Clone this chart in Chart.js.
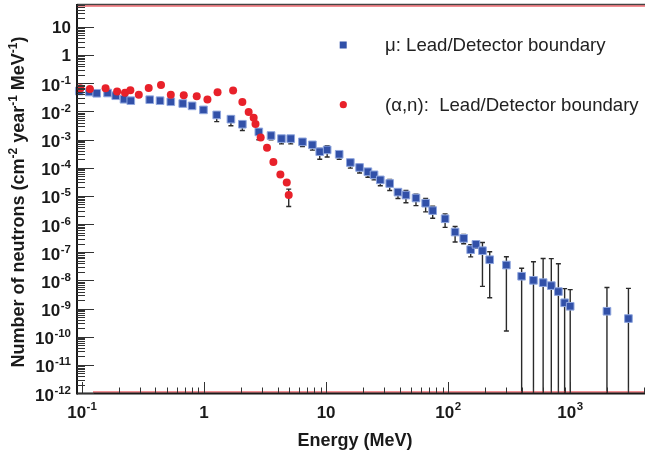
<!DOCTYPE html>
<html>
<head>
<meta charset="utf-8">
<script src="https://cdn.jsdelivr.net/npm/chart.js@4.4.1/dist/chart.umd.min.js"></script>
<style>
  html, body { margin: 0; padding: 0; background: #fff; }
  #wrap { width: 645px; height: 455px; }
</style>
</head>
<body>
<div id="wrap"><canvas id="chart" width="645" height="455"></canvas></div>
<script>
// mu-induced neutrons at the lead/detector boundary
const muEnergy = [0.095, 0.115, 0.132, 0.162, 0.189, 0.221, 0.251, 0.359, 0.436, 0.534, 0.669, 0.798, 0.989,
  1.27, 1.66, 2.06, 2.81, 3.54, 4.31, 5.13, 6.40, 7.72, 8.87, 10.2, 12.8, 15.8, 18.8, 22.0, 24.7, 27.8,
  33.2, 38.8, 45.1, 54.5, 65.4, 74.7, 94.4, 114, 134, 153, 169, 191, 219, 300, 400, 500, 600, 700, 800,
  900, 1000, 2000, 3000];
const muFlux = [0.053, 0.049, 0.044, 0.045, 0.036, 0.027, 0.024, 0.026, 0.024, 0.022, 0.019, 0.0157, 0.0113,
  0.0075, 0.0053, 0.0035, 0.00187, 0.00139, 0.00108, 0.00108, 0.00083, 0.00065, 0.00037, 0.00043, 0.0003,
  1.53e-4, 1.02e-4, 7.2e-5, 5.6e-5, 3.7e-5, 2.75e-5, 1.36e-5, 1.07e-5, 8.4e-6, 5.5e-6, 3.0e-6, 1.54e-6,
  5.2e-7, 3.1e-7, 1.23e-7, 1.9e-7, 1.13e-7, 5.4e-8, 3.5e-8, 1.4e-8, 1.0e-8, 8.3e-9, 6.5e-9, 4.0e-9,
  1.6e-9, 1.2e-9, 8.0e-10, 4.4e-10];
// error bar ends (null = hidden under the marker), 1e-14 = runs off the bottom
const muLow = [null, null, null, null, null, null, null, null, null, null, null, null, null,
  0.00435, 0.0031, 0.0021, 0.00098, 0.00098, 0.0007, 0.0007, 0.00057, 0.00042, 0.0002, 0.00024, 0.0002,
  9.7e-5, 6.5e-5, 4.6e-5, 3.7e-5, 2.3e-5, 1.55e-5, 8.1e-6, 5.7e-6, 4.5e-6, 2.7e-6, 1.6e-6, 7.6e-7,
  2.3e-7, 2.0e-7, 6.8e-8, 1.4e-7, 6.1e-9, 2.4e-9, 1.6e-10, 1e-14, 1e-14, 1e-14, 1e-14, 1e-14,
  1e-14, 1e-14, 1e-14, 1e-14];
const muHigh = [null, null, null, null, null, null, null, null, null, null, null, null, null,
  0.0098, 0.0071, 0.0046, 0.0023, 0.0017, 0.0013, 0.0013, 0.001, 0.00078, 0.00048, 0.00061, 0.00038,
  1.9e-4, 1.3e-4, 9e-5, 7e-5, 4.7e-5, 3.8e-5, 1.7e-5, 1.55e-5, 1.15e-5, 8.1e-6, 4.3e-6, 2.3e-6,
  8.2e-7, 4.3e-7, 1.85e-7, 2.4e-7, 2.2e-7, 1.04e-7, 6.9e-8, 2.7e-8, 4.6e-8, 6.0e-8, 5.9e-8, 3.9e-8,
  5.1e-9, 4.7e-9, 5.6e-9, 5.2e-9];

// (alpha,n) neutrons at the lead/detector boundary
const anEnergy = [0.097, 0.116, 0.156, 0.194, 0.225, 0.249, 0.292, 0.352, 0.444, 0.534, 0.682, 0.871, 1.066,
  1.29, 1.73, 2.06, 2.32, 2.55, 2.64, 2.91, 3.28, 3.70, 4.22, 4.76, 4.94];
const anFlux = [0.0665, 0.0628, 0.0665, 0.0504, 0.0464, 0.0565, 0.0394, 0.068, 0.087, 0.0394, 0.0375, 0.0346,
  0.0262, 0.048, 0.0547, 0.0217, 0.0096, 0.006, 0.0036, 0.00118, 5.1e-4, 1.58e-4, 5.7e-5, 3.0e-5, 1.07e-5];
const anLow = [null, null, null, null, null, null, null, null, null, null, null, null, null,
  null, null, null, null, null, null, null, null, null, null, null, 4.2e-6];
const anHigh = [null, null, null, null, null, null, null, null, null, null, null, null, null,
  null, null, null, null, null, null, null, null, null, null, null, 1.74e-5];

const xTickValues = [0.1, 1, 10, 100, 1000];
const xTickLabels = ["10^-1", "1", "10", "10^2", "10^3"];
const yTickValues = [10, 1, 0.1, 1e-2, 1e-3, 1e-4, 1e-5, 1e-6, 1e-7, 1e-8, 1e-9, 1e-10, 1e-11, 1e-12];
const yTickLabels = ["10", "1", "10^-1", "10^-2", "10^-3", "10^-4", "10^-5", "10^-6", "10^-7", "10^-8",
  "10^-9", "10^-10", "10^-11", "10^-12"];

const legendItems = ["\u03bc: Lead/Detector boundary", "(\u03b1,n):  Lead/Detector boundary"];

const FONT = '"Liberation Sans", Arial, Helvetica, sans-serif';
const BLUE = "#3150a8";
const RED = "#e8212a";

function toPoints(xs, ys) {
  return xs.map((x, i) => ({ x: x, y: ys[i] }));
}

// draws "10^-3" style text; align = left | right | center
function drawPower(ctx, label, x, y, align, baseSize, expSize, raise) {
  const parts = label.split("^");
  const base = parts[0], exp = parts[1] || "";
  ctx.font = "bold " + baseSize + "px " + FONT;
  const wb = ctx.measureText(base).width;
  ctx.font = "bold " + expSize + "px " + FONT;
  const we = exp ? ctx.measureText(exp).width + 0.5 : 0;
  const w = wb + we;
  let x0 = x;
  if (align === "right") x0 = x - w;
  if (align === "center") x0 = x - w / 2;
  ctx.textAlign = "left";
  ctx.textBaseline = "alphabetic";
  ctx.font = "bold " + baseSize + "px " + FONT;
  ctx.fillText(base, x0, y);
  if (exp) {
    ctx.font = "bold " + expSize + "px " + FONT;
    ctx.fillText(exp, x0 + wb + 0.5, y - raise);
  }
}

function drawErrorBars(ctx, chart, xs, lo, hi) {
  const xs_ = chart.scales.x, ys_ = chart.scales.y, ca = chart.chartArea;
  ctx.strokeStyle = "#2a2a2a";
  ctx.lineWidth = 1.4;
  xs.forEach((e, i) => {
    if (lo[i] == null) return;
    const px = xs_.getPixelForValue(e);
    let yl = ys_.getPixelForValue(lo[i]);
    const yh = ys_.getPixelForValue(hi[i]);
    const capLow = yl < ca.bottom;
    if (!capLow) yl = ca.bottom;
    ctx.beginPath();
    ctx.moveTo(px, yl);
    ctx.lineTo(px, yh);
    ctx.moveTo(px - 2.5, yh);
    ctx.lineTo(px + 2.5, yh);
    if (capLow) {
      ctx.moveTo(px - 2.5, yl);
      ctx.lineTo(px + 2.5, yl);
    }
    ctx.stroke();
  });
}

const rootStyle = {
  id: "rootStyle",
  beforeDatasetsDraw(chart) {
    const ctx = chart.ctx;
    ctx.save();
    drawErrorBars(ctx, chart, muEnergy, muLow, muHigh);
    drawErrorBars(ctx, chart, anEnergy, anLow, anHigh);
    ctx.restore();
  },
  afterDraw(chart) {
    const ctx = chart.ctx, ca = chart.chartArea;
    const xs = chart.scales.x, ys = chart.scales.y;
    ctx.save();

    // frame
    ctx.strokeStyle = "#444";
    ctx.lineWidth = 1.5;
    ctx.beginPath(); ctx.moveTo(ca.left, ca.top - 0.5); ctx.lineTo(ca.right, ca.top - 0.5); ctx.stroke();
    ctx.strokeStyle = RED;
    ctx.lineWidth = 1.2;
    ctx.beginPath(); ctx.moveTo(ca.left, ca.top + 1); ctx.lineTo(ca.right, ca.top + 1); ctx.stroke();
    ctx.beginPath(); ctx.moveTo(ca.left + 16, ca.bottom - 1); ctx.lineTo(ca.right, ca.bottom - 1); ctx.stroke();
    ctx.strokeStyle = "#1a1a1a";
    ctx.lineWidth = 2;
    ctx.beginPath(); ctx.moveTo(ca.left, ca.bottom + 0.5); ctx.lineTo(ca.right, ca.bottom + 0.5); ctx.stroke();
    ctx.beginPath(); ctx.moveTo(ca.left, ca.top - 1); ctx.lineTo(ca.left, ca.bottom + 1.5); ctx.stroke();

    // y ticks (inward)
    ctx.strokeStyle = "#333";
    ctx.lineWidth = 1;
    ctx.beginPath();
    for (let n = -12; n <= 1; n++) {
      for (let k = 1; k <= 9; k++) {
        const v = k * Math.pow(10, n);
        if (v < ys.min * 0.999 || v > ys.max) continue;
        const py = Math.round(ys.getPixelForValue(v)) + 0.5;
        const len = k === 1 ? 17 : 8;
        ctx.moveTo(ca.left, py);
        ctx.lineTo(ca.left + len, py);
      }
    }
    // x ticks (inward)
    for (let n = -2; n <= 3; n++) {
      for (let k = 1; k <= 9; k++) {
        const v = k * Math.pow(10, n);
        if (v < xs.min || v > xs.max) continue;
        const px = Math.round(xs.getPixelForValue(v)) + 0.5;
        const len = k === 1 ? 11 : 5.5;
        ctx.moveTo(px, ca.bottom);
        ctx.lineTo(px, ca.bottom - len);
      }
    }
    ctx.stroke();

    // tick labels
    ctx.fillStyle = "#1a1a1a";
    yTickValues.forEach((v, i) => {
      const py = ys.getPixelForValue(v);
      const hasExp = yTickLabels[i].indexOf("^") >= 0;
      drawPower(ctx, yTickLabels[i], 71, py + (hasExp ? 7.5 : 6.3), "right", 17, 11.5, 7);
    });
    xTickValues.forEach((v, i) => {
      const px = xs.getPixelForValue(v);
      drawPower(ctx, xTickLabels[i], px, 418, "center", 17, 11.5, 8);
    });

    // axis titles
    ctx.font = "bold 18px " + FONT;
    ctx.textAlign = "center";
    ctx.textBaseline = "alphabetic";
    ctx.fillText("Energy (MeV)", 355, 446);

    const segs = [["Number of neutrons (cm", 0], ["-2", 1], [" year", 0], ["-1", 1], [" MeV", 0], ["-1", 1], [")", 0]];
    ctx.save();
    ctx.translate(23.5, 202);
    ctx.rotate(-Math.PI / 2);
    let total = 0;
    segs.forEach(s => {
      ctx.font = "bold " + (s[1] ? 12 : 18) + "px " + FONT;
      total += ctx.measureText(s[0]).width;
    });
    let cx = -total / 2;
    ctx.textAlign = "left";
    segs.forEach(s => {
      ctx.font = "bold " + (s[1] ? 12 : 18) + "px " + FONT;
      ctx.fillText(s[0], cx, s[1] ? -7 : 0);
      cx += ctx.measureText(s[0]).width;
    });
    ctx.restore();

    // legend
    ctx.fillStyle = BLUE;
    ctx.fillRect(339.7, 41.5, 7, 7);
    ctx.fillStyle = RED;
    ctx.beginPath(); ctx.arc(343.3, 104.7, 3.6, 0, Math.PI * 2); ctx.fill();
    ctx.fillStyle = "#222";
    ctx.font = "18.6px " + FONT;
    ctx.textAlign = "left";
    ctx.fillText(legendItems[0], 385, 51);
    ctx.fillText(legendItems[1], 385, 110.5);

    ctx.restore();
  }
};

new Chart(document.getElementById("chart"), {
  type: "scatter",
  data: {
    datasets: [
      {
        label: legendItems[1],
        data: toPoints(anEnergy, anFlux),
        backgroundColor: RED,
        borderWidth: 0,
        pointStyle: "circle",
        pointRadius: 4,
        clip: false
      },
      {
        label: legendItems[0],
        data: toPoints(muEnergy, muFlux),
        backgroundColor: BLUE,
        borderColor: "#8fa6de",
        borderWidth: 1,
        pointStyle: "rect",
        pointRadius: 5.4,
        clip: false
      }
    ]
  },
  options: {
    responsive: false,
    animation: false,
    layout: { autoPadding: false, padding: { top: 5, right: 0, left: 0, bottom: 0 } },
    plugins: { legend: { display: false }, tooltip: { enabled: false } },
    scales: {
      x: {
        type: "logarithmic",
        min: 0.091,
        max: 4100,
        grid: { display: false },
        border: { display: false },
        ticks: { display: false },
        afterFit(scale) { scale.height = 62; }
      },
      y: {
        type: "logarithmic",
        min: 1e-12,
        max: 60,
        grid: { display: false },
        border: { display: false },
        ticks: { display: false },
        afterFit(scale) { scale.width = 77; }
      }
    }
  },
  plugins: [rootStyle]
});
</script>
</body>
</html>
